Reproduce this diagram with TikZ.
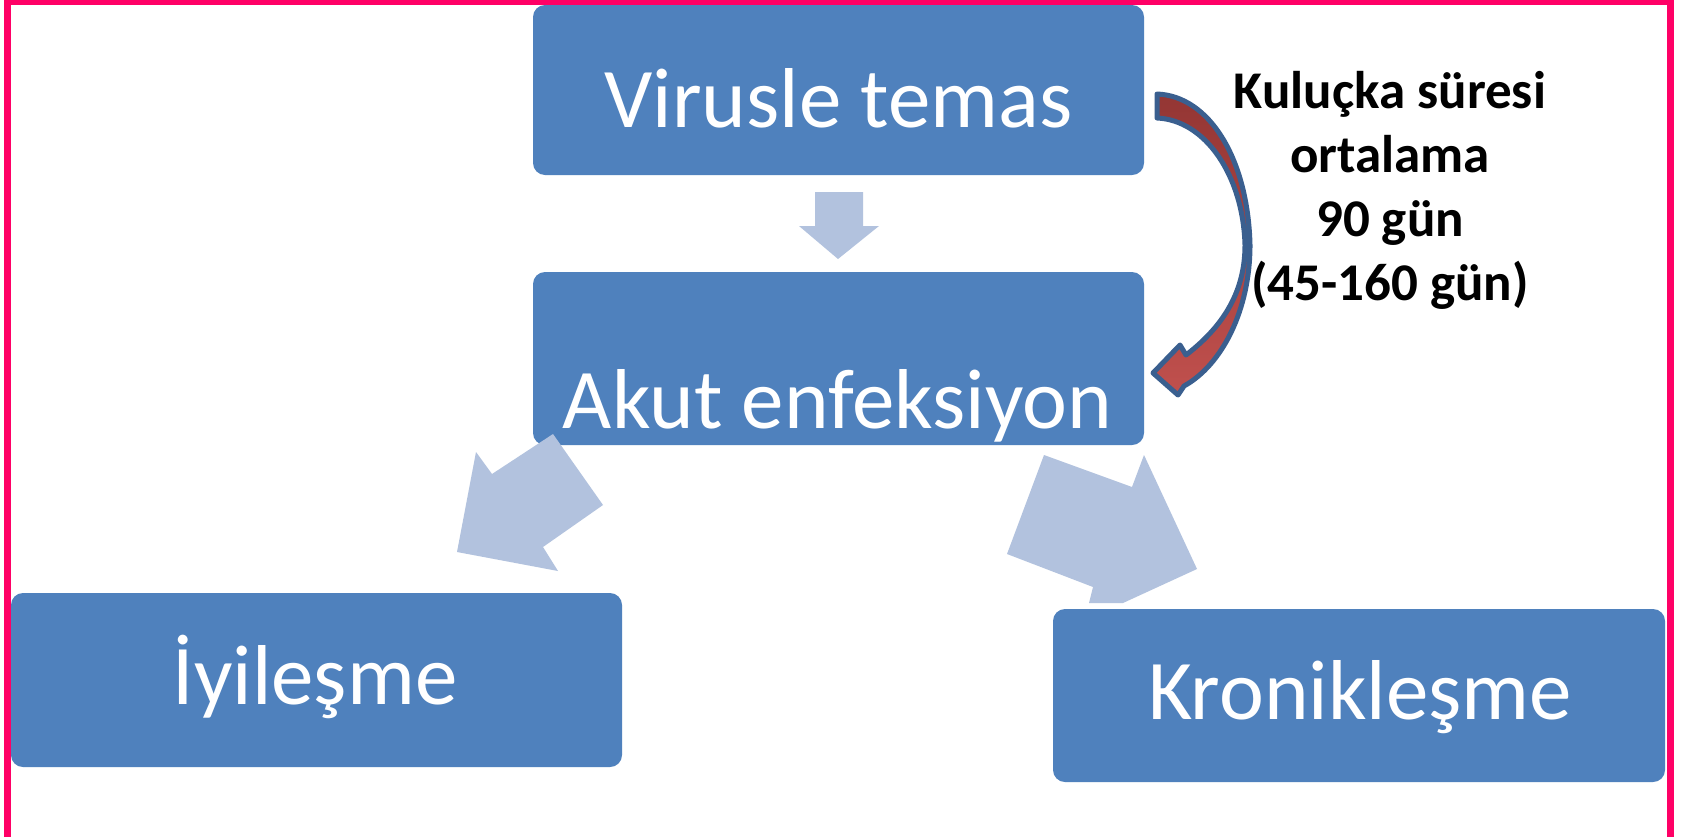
\documentclass[tikz,border=0pt]{standalone}
\usepackage{fontspec}
\setmainfont{Carlito}
\definecolor{boxblue}{HTML}{4F81BD}
\definecolor{arrowblue}{RGB}{178,194,222}
\definecolor{framepink}{HTML}{FF0066}
\definecolor{outlineblue}{HTML}{3A5F8F}
\definecolor{reddark}{HTML}{943634}
\definecolor{redlight}{HTML}{C0504D}
\begin{document}
\begin{tikzpicture}[x=1pt,y=-1pt,
  box/.style={fill=boxblue, rounded corners=12pt, draw=none, inner sep=0pt},
  boxtext/.style={text=white, inner sep=0pt, font=\fontsize{85}{100}\selectfont},
  blockarrow/.style={fill=arrowblue, draw=none},
  curvedarrow/.style={draw=outlineblue, line width=5pt, line join=round, top color=reddark, bottom color=redlight},
  notetext/.style={text=black, inner sep=0pt, align=center, font=\fontsize{53}{64}\selectfont\bfseries}]
\useasboundingbox (0,0) rectangle (1688,836);
\fill[white] (0,0) rectangle (1688,836);
% frame
\draw[framepink, line width=7pt] (7.5,1) rectangle (1670.5,845);
% boxes
\node[box, minimum width=611pt, minimum height=170pt] (virus) at (838.5,90) {};
\node[box, minimum width=611pt, minimum height=173pt] (akut) at (838.5,358.5) {};
\node[box, minimum width=611pt, minimum height=174pt] (iyi) at (316.5,680) {};
\node[box, minimum width=612pt, minimum height=173pt] (kron) at (1359,695.5) {};
\node[boxtext, anchor=base] (virust) at (838.5,127) {Virusle temas};
\node[boxtext, anchor=base] (akutt) at (837.5,428) {Akut enfeksiyon};
\node[boxtext, anchor=base] (iyit) at (315,704) {İyileşme};
\node[boxtext, anchor=base] (kront) at (1360,719) {Kronikleşme};
% block arrows
\fill[blockarrow] (815,192) -- (863,192) -- (863,226) -- (879,226) -- (838,259) -- (799,226) -- (815,226) -- cycle;
\fill[blockarrow] (553,434) -- (603,505) -- (543,547) -- (558,571) -- (457,552) -- (476,452) -- (492,474) -- cycle;
\fill[blockarrow] (1044,455) -- (1132,487) -- (1144,455) -- (1197,569) -- (1123,603) -- (1089,603) -- (1093,587) -- (1007,554) -- cycle;
% curved arrow
\path[curvedarrow] (1157,94) .. controls (1210,96) and (1248,160) .. (1250,245)
  .. controls (1250,310) and (1222,365) .. (1184,386) -- (1178,395) -- (1153,373) -- (1180,345) -- (1186,355)
  .. controls (1225,325) and (1245,290) .. (1245,245)
  .. controls (1243,175) and (1205,120) .. (1157,118) -- cycle;
% note
\node[notetext, anchor=base] (note) at (1390,300) {Kuluçka süresi\\ortalama\\90 gün\\(45-160 gün)};
\end{tikzpicture}
\end{document}
